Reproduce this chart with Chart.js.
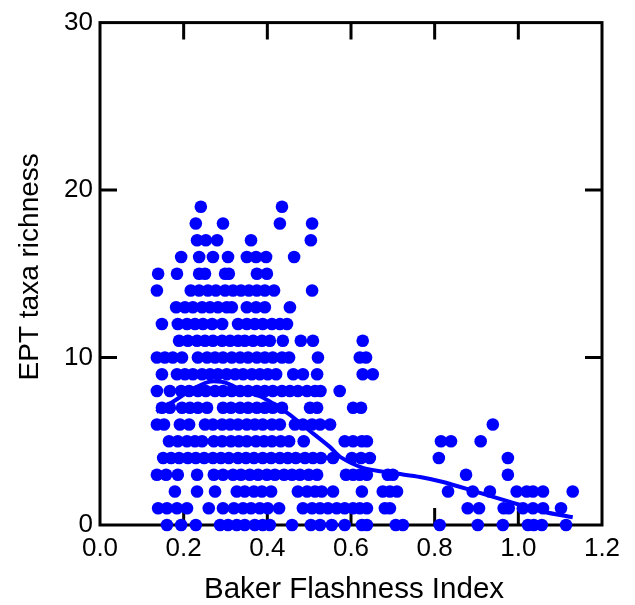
<!DOCTYPE html>
<html><head><meta charset="utf-8">
<script src="https://cdn.jsdelivr.net/npm/chart.js@4"></script>
<style>html,body{margin:0;padding:0;background:#fff}#wrap{width:635px;height:605px}</style>
</head><body><div id="wrap"><canvas id="c" width="635" height="605"></canvas></div>
<script>
// Baker Flashness Index values for sites, grouped by EPT taxa richness (0..19)
const ept0 = [0.160,0.194,0.229,0.287,0.306,0.327,0.346,0.370,0.389,0.406,0.459,0.504,0.526,0.554,0.585,0.626,0.638,0.707,0.724,0.812,0.903,0.963,1.023,1.037,1.056,1.114];
const ept1 = [0.139,0.160,0.184,0.208,0.260,0.294,0.320,0.342,0.361,0.382,0.401,0.428,0.485,0.507,0.526,0.545,0.566,0.585,0.605,0.621,0.638,0.681,0.693,0.879,0.906,0.965,0.977,1.011,1.035,1.059,1.102];
const ept2 = [0.179,0.232,0.275,0.327,0.346,0.368,0.387,0.409,0.473,0.495,0.514,0.530,0.557,0.626,0.676,0.693,0.710,0.832,0.891,0.932,0.996,1.020,1.035,1.059,1.130];
const ept3 = [0.136,0.158,0.186,0.232,0.272,0.294,0.318,0.337,0.358,0.378,0.399,0.418,0.440,0.459,0.478,0.499,0.519,0.588,0.605,0.621,0.638,0.688,0.700,0.875,0.975];
const ept4 = [0.151,0.170,0.189,0.210,0.229,0.249,0.270,0.289,0.308,0.330,0.349,0.368,0.389,0.409,0.430,0.449,0.468,0.490,0.509,0.528,0.557,0.602,0.624,0.645,0.810,0.975];
const ept5 = [0.165,0.186,0.208,0.227,0.244,0.272,0.292,0.313,0.332,0.351,0.373,0.392,0.411,0.432,0.452,0.487,0.585,0.605,0.626,0.638,0.815,0.839,0.910];
const ept6 = [0.136,0.153,0.191,0.213,0.251,0.270,0.292,0.311,0.330,0.351,0.370,0.389,0.411,0.430,0.466,0.485,0.507,0.526,0.550,0.939];
const ept7 = [0.148,0.167,0.196,0.215,0.234,0.256,0.294,0.313,0.335,0.354,0.375,0.394,0.413,0.435,0.502,0.519,0.605,0.624];
const ept8 = [0.136,0.167,0.194,0.213,0.234,0.253,0.275,0.294,0.315,0.335,0.354,0.375,0.394,0.413,0.435,0.454,0.473,0.495,0.514,0.527,0.573];
const ept9 = [0.148,0.184,0.203,0.222,0.244,0.263,0.282,0.303,0.323,0.342,0.363,0.382,0.401,0.421,0.462,0.485,0.519,0.628,0.652];
const ept10 = [0.136,0.155,0.174,0.196,0.234,0.256,0.275,0.294,0.315,0.335,0.354,0.375,0.394,0.413,0.435,0.452,0.521,0.621,0.636];
const ept11 = [0.189,0.210,0.232,0.251,0.270,0.292,0.311,0.330,0.346,0.366,0.387,0.406,0.437,0.480,0.509,0.628];
const ept12 = [0.148,0.186,0.208,0.227,0.246,0.268,0.292,0.330,0.351,0.370,0.389,0.411,0.430,0.447];
const ept13 = [0.182,0.203,0.222,0.244,0.263,0.282,0.303,0.315,0.351,0.373,0.394,0.454];
const ept14 = [0.136,0.217,0.237,0.258,0.277,0.299,0.318,0.337,0.356,0.375,0.394,0.416,0.507];
const ept15 = [0.139,0.184,0.237,0.251,0.299,0.308,0.375,0.399];
const ept16 = [0.194,0.237,0.270,0.306,0.351,0.373,0.397,0.464];
const ept17 = [0.232,0.253,0.280,0.361,0.504];
const ept18 = [0.229,0.294,0.430,0.507];
const ept19 = [0.241,0.435];

// smoothed trend line
const trendX = [0.135,0.18,0.22,0.26,0.29,0.31,0.34,0.39,0.45,0.495,0.55,0.575,0.63,0.70,0.765,0.82,0.90,0.98,1.06,1.13];
const trendY = [6.75,7.45,8.1,8.55,8.55,8.4,8.05,7.6,6.65,5.75,4.65,4.05,3.4,3.1,2.87,2.57,1.98,1.38,0.79,0.46];

const xTicks = [0.0,0.2,0.4,0.6,0.8,1.0,1.2];
const yTicks = [0,10,20,30];
const xTitle = 'Baker Flashness Index';
const yTitle = 'EPT taxa richness';

const rows = [ept0,ept1,ept2,ept3,ept4,ept5,ept6,ept7,ept8,ept9,ept10,ept11,ept12,ept13,ept14,ept15,ept16,ept17,ept18,ept19];
const points = [];
rows.forEach((xs, yv) => xs.forEach(xv => points.push({x: xv, y: yv})));
const trend = trendX.map((xv, i) => ({x: xv, y: trendY[i]}));

const BLUE = '#0000ff';
const FAMILY = "'Liberation Sans', Arial, sans-serif";
const FONT = {family: FAMILY, size: 26};

const framePlugin = {
  id: 'frame',
  beforeDatasetsDraw(chart) {
    const {ctx, chartArea: a, scales: {x, y}} = chart;
    ctx.save();
    ctx.strokeStyle = '#000';
    ctx.lineWidth = 3;
    ctx.lineCap = 'butt';
    ctx.strokeRect(a.left, a.top, a.right - a.left, a.bottom - a.top);
    const L = 17;
    ctx.beginPath();
    xTicks.slice(1, -1).forEach(v => {
      const px = x.getPixelForValue(v);
      ctx.moveTo(px, a.bottom); ctx.lineTo(px, a.bottom - L);
      ctx.moveTo(px, a.top); ctx.lineTo(px, a.top + L);
    });
    yTicks.slice(1, -1).forEach(v => {
      const py = y.getPixelForValue(v);
      ctx.moveTo(a.left, py); ctx.lineTo(a.left + L, py);
      ctx.moveTo(a.right, py); ctx.lineTo(a.right - L, py);
    });
    ctx.stroke();
    ctx.restore();
  },
  afterDraw(chart) {
    const {ctx, chartArea: a} = chart;
    ctx.save();
    ctx.fillStyle = '#000';
    ctx.textAlign = 'center';
    ctx.textBaseline = 'alphabetic';
    ctx.font = '29.5px ' + FAMILY;
    ctx.fillText(xTitle, (a.left + a.right) / 2 + 3, a.bottom + 73);
    ctx.translate(a.left - 62, (a.top + a.bottom) / 2 - 7);
    ctx.rotate(-Math.PI / 2);
    ctx.font = '28px ' + FAMILY;
    ctx.fillText(yTitle, 0, 0);
    ctx.restore();
  }
};

new Chart(document.getElementById('c'), {
  type: 'scatter',
  data: {
    datasets: [
      {data: points, backgroundColor: BLUE, borderWidth: 0, pointRadius: 6.3, pointHoverRadius: 6.3, clip: false},
      {data: trend, showLine: true, borderColor: BLUE, borderWidth: 4, pointRadius: 0, tension: 0.25, fill: false, clip: false}
    ]
  },
  options: {
    responsive: false,
    animation: false,
    devicePixelRatio: 1,
    layout: {padding: {top: 20, right: 33, left: 0, bottom: 0}},
    plugins: {legend: {display: false}, tooltip: {enabled: false}},
    scales: {
      x: {
        type: 'linear', min: 0, max: 1.2,
        afterBuildTicks: s => { s.ticks = xTicks.map(v => ({value: v})); },
        afterFit: s => { s.height = 80; },
        grid: {display: false, drawTicks: false},
        border: {display: false},
        ticks: {font: FONT, color: '#000', padding: 8, maxRotation: 0, autoSkip: false, callback: v => Number(v).toFixed(1)},
        title: {display: false}
      },
      y: {
        type: 'linear', min: 0, max: 30,
        afterBuildTicks: s => { s.ticks = yTicks.map(v => ({value: v})); },
        afterFit: s => { s.width = 100; },
        grid: {display: false, drawTicks: false},
        border: {display: false},
        ticks: {font: FONT, color: '#000', padding: 7, autoSkip: false, callback: v => String(v)},
        title: {display: false}
      }
    }
  },
  plugins: [framePlugin]
});
</script>
</body></html>
